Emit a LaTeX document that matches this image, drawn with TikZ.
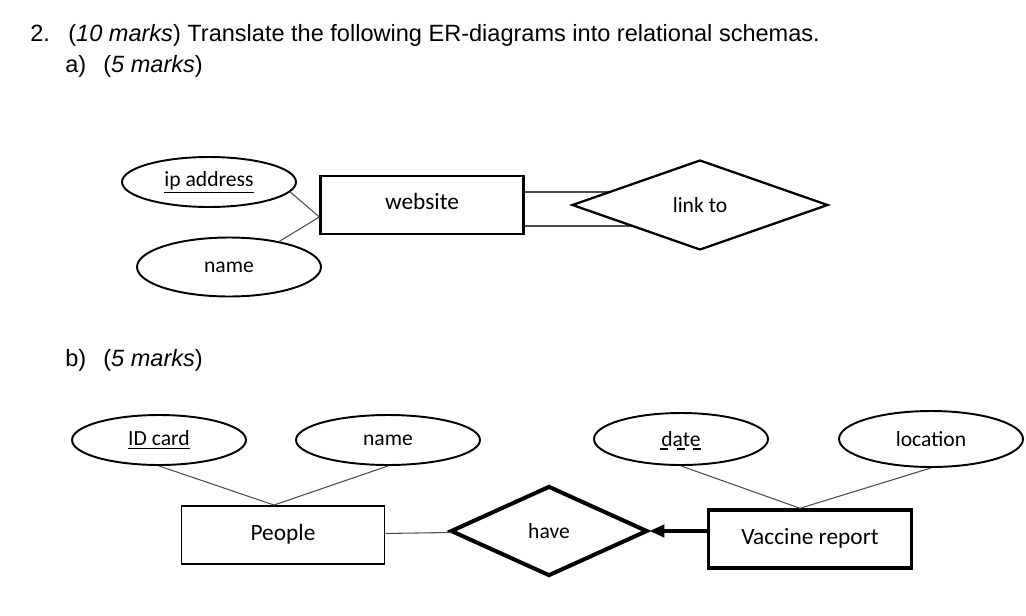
\documentclass[tikz,border=0pt]{standalone}
\usepackage{fontspec}
\setmainfont{Liberation Sans}
\newfontfamily\erfont{Carlito}
\usetikzlibrary{shapes.geometric,arrows.meta,calc,backgrounds}

\tikzset{
  hdr/.style={anchor=base west, inner sep=0pt, font=\fontsize{13.4}{16}\selectfont},
  attr/.style={ellipse, draw, line width=1.1pt, inner sep=0pt, font=\erfont\fontsize{12.3}{14}\selectfont},
  ent/.style={rectangle, draw, line width=1.3pt, inner sep=0pt, minimum width=4.06cm, minimum height=1.16cm, font=\erfont\fontsize{13.3}{16}\selectfont},
  rel/.style={diamond, draw, line width=1.3pt, inner sep=0pt, fill=white, font=\erfont\fontsize{12.3}{14}\selectfont},
  conn/.style={draw=black!70, line width=0.6pt}
}

\begin{document}
\begin{tikzpicture}[x=0.02cm, y=-0.02cm]
 \useasboundingbox (0,0) rectangle (1026,615);

 % heading
 \node[hdr] (qnum) at (30,42) {2.};
 \node[hdr] (qtext) at (68,42) {(\textit{10 marks}) Translate the following ER-diagrams into relational schemas.};
 \node[hdr] (pa) at (65,72) {a)};
 \node[hdr] (patext) at (103,72) {(\textit{5 marks})};
 \node[hdr] (pb) at (65,366) {b)};
 \node[hdr] (pbtext) at (103,366) {(\textit{5 marks})};

 % part a
 \node[attr, minimum width=3.48cm, minimum height=1.0cm] (ipaddr) at (209,182) {\underline{ip address}};
 \node[attr, minimum width=3.68cm, minimum height=1.18cm] (nameA) at (229,267) {name};
 \node[ent] (website) at (422,205) {\raisebox{4pt}{website}};
 \coordinate (wjoin) at ($(website.west)+(0,12)$);
 \draw[conn] (ipaddr.-7) -- (wjoin);
 \draw[conn] (nameA.27) -- (wjoin);

 \coordinate (wtop) at ($(website.east)+(0,-13)$);
 \coordinate (wbot) at ($(website.east)+(0,21)$);
 \draw[conn] (wtop) -- (wtop -| 700,0);
 \draw[conn] (wbot) -- (wbot -| 700,0);
 \node[rel, minimum width=5.12cm, minimum height=1.8cm] (linkto) at (700,205) {link to};

 % part b
 \node[attr, minimum width=3.48cm, minimum height=1.0cm] (idcard) at (159,440) {\underline{ID card}};
 \node[attr, minimum width=3.68cm, minimum height=1.0cm] (nameB) at (388,440) {name};
 \node[attr, minimum width=3.48cm, minimum height=1.04cm] (date) at (681,439) {date};
 \draw[line width=0.6pt, dash pattern=on 4.5pt off 5pt] ($(date.center)+(-21,10)$) -- ($(date.center)+(20,10)$);
 \node[attr, minimum width=3.68cm, minimum height=1.12cm] (location) at (931,439) {location};

 \node[ent, line width=1.1pt] (people) at (283,535) {\raisebox{3pt}{People}};
 \node[ent, line width=2pt] (vaccine) at (810,539) {\raisebox{3pt}{Vaccine report}};
 \node[rel, line width=2.3pt, minimum width=3.94cm, minimum height=1.8cm] (have) at (549,531) {have};

 \coordinate (pjoin) at ($(people.north)+(-9,0)$);
 \coordinate (vjoin) at ($(vaccine.north)+(-10,0)$);
 \draw[conn] (idcard.south) -- (pjoin);
 \draw[conn] (nameB.south) -- (pjoin);
 \draw[conn] (date.south) -- (vjoin);
 \draw[conn] (location.south) -- (vjoin);

 \draw[conn] (people) -- (have);
 \draw[line width=2.3pt, -{Triangle[length=8.5pt,width=7pt]}] ($(vaccine.west)+(0,-8)$) -- (have.east);
\end{tikzpicture}
\end{document}
